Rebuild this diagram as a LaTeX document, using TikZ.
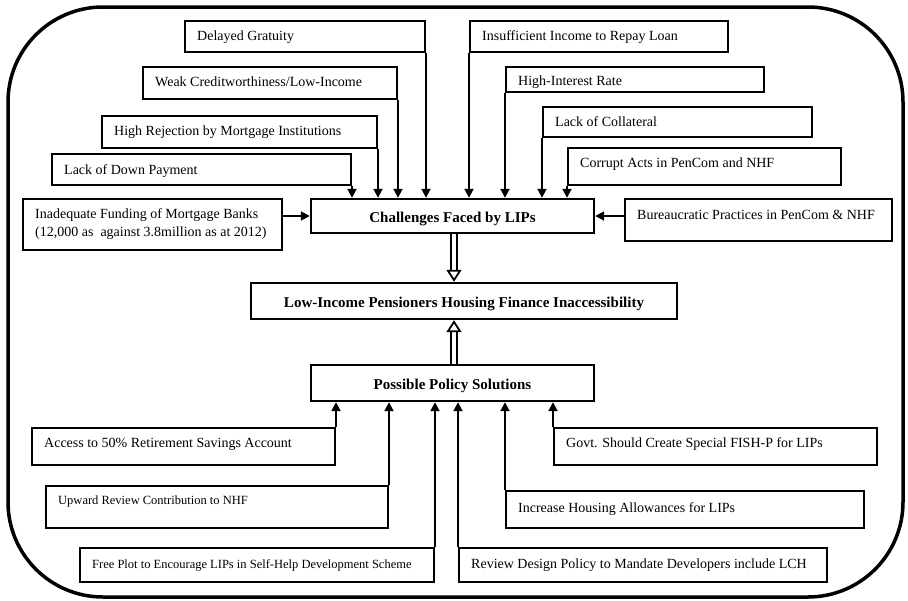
\documentclass[tikz,border=0pt]{standalone}
\usepackage{fontspec}
\setmainfont{Liberation Serif}
\usetikzlibrary{arrows.meta,fit}
\newcommand\mkbox[7]{%
  \node[boxn, fit={(#2,#3) (#4,#5)}] (#1) {};
  \node[lbl, anchor=west] (#1t) at (#2+12,#6) {#7};
}
\newcommand\mksbox[7]{%
  \node[boxn, fit={(#2,#3) (#4,#5)}] (#1) {};
  \node[slbl, anchor=west] (#1t) at (#2+12,#6) {#7};
}
\newcommand\mktbox[6]{%
  \node[boxn, line width=2.4pt, fit={(#2,#3) (#4,#5)}] (#1) {};
  \node[ttl] (#1t) at ([yshift=-1pt]#1.center) {#6};
}
\begin{document}
\begin{tikzpicture}[x=1pt,y=-1pt,
  boxn/.style={draw, line width=2pt, inner sep=0pt},
  lbl/.style={inner sep=0pt, font=\fontsize{14}{18}\selectfont, text height=9.3pt, text depth=0pt},
  slbl/.style={inner sep=0pt, font=\fontsize{12.5}{15}\selectfont, text height=8.3pt, text depth=0pt},
  ttl/.style={inner sep=0pt, font=\fontsize{15}{18}\selectfont\bfseries, text height=10pt, text depth=0pt},
  arr/.style={line width=1.8pt, -{Triangle[length=9pt,width=9pt]}},
  dbl/.style={double, double distance=3.5pt, line width=1.8pt, -{Triangle[open,length=12pt,width=15pt,line width=1.8pt]}}]
\useasboundingbox (0,0) rectangle (908,600);
\draw[line width=3.5pt, rounded corners=95pt] (8,7) rectangle (903,597);

% top left causes
\mkbox{dg}{185}{21}{425}{52}{36}{Delayed Gratuity}
\mkbox{wc}{143}{67}{397}{99}{82}{Weak Creditworthiness/Low-Income}
\mkbox{hr}{102}{116}{377}{148}{131}{High Rejection by Mortgage Institutions}
\mkbox{ld}{52}{154}{351}{185}{170}{Lack of Down Payment}
% top right causes
\mkbox{ii}{470}{21}{728}{52}{36}{Insufficient Income to Repay Loan}
\mkbox{hi}{506}{67}{764}{92}{81}{High-Interest Rate}
\mkbox{lc}{543}{107}{812}{137}{122}{Lack of Collateral}
\mkbox{ca}{568}{148}{841}{185}{163}{Corrupt Acts in PenCom and NHF}
% side causes
\node[boxn, fit={(23,199) (282,250)}] (inf) {};
\node[inner sep=0pt, font=\fontsize{14}{18}\selectfont, align=left, anchor=west] (inft) at (35,224) {Inadequate Funding of Mortgage Banks\\(12,000 as\ \ against 3.8million as at 2012)};
\mkbox{bur}{625}{199}{892}{241}{215}{Bureaucratic Practices in PenCom \& NHF}

% central boxes
\mktbox{chal}{311}{199}{594}{233}{Challenges Faced by LIPs}
\mktbox{low}{251}{283}{677}{319}{Low-Income Pensioners Housing Finance Inaccessibility}
\mktbox{pos}{311}{365}{594}{401}{Possible Policy Solutions}

% solutions
\mkbox{acc}{32}{428}{335}{465}{443}{Access to 50\% Retirement Savings Account}
\mksbox{upw}{46}{486}{388}{528}{500}{Upward Review Contribution to NHF}
\mksbox{fp}{80}{548}{434}{582}{564}{Free Plot to Encourage LIPs in Self-Help Development Scheme}
\mkbox{gv}{554}{428}{877}{465}{443}{Govt. Should Create Special FISH-P for LIPs}
\mkbox{ih}{506}{491}{864}{528}{508}{Increase Housing Allowances for LIPs}
\mkbox{rd}{459}{548}{827}{582}{564}{Review Design Policy to Mandate Developers include LCH}

% arrows into challenges
\foreach \n in {dg,wc,hr,ld}{\draw[arr] (\n.south east) -- (\n.south east |- chal.north);}
\foreach \n in {ii,hi,lc,ca}{\draw[arr] (\n.south west) -- (\n.south west |- chal.north);}
\draw[arr] (inf.east |- chal.west) -- (chal.west);
\draw[arr] (bur.west |- chal.east) -- (chal.east);

% double arrows
\draw[dbl] ([xshift=1.5pt]chal.south) -- ([xshift=1.5pt]chal.south |- low.north);
\draw[dbl] ([xshift=1.5pt]pos.north) -- ([xshift=1.5pt]pos.north |- low.south);

% arrows from solutions
\foreach \n in {acc,upw,fp}{\draw[arr] (\n.north east) -- (\n.north east |- pos.south);}
\foreach \n in {gv,ih,rd}{\draw[arr] (\n.north west) -- (\n.north west |- pos.south);}
\end{tikzpicture}
\end{document}
